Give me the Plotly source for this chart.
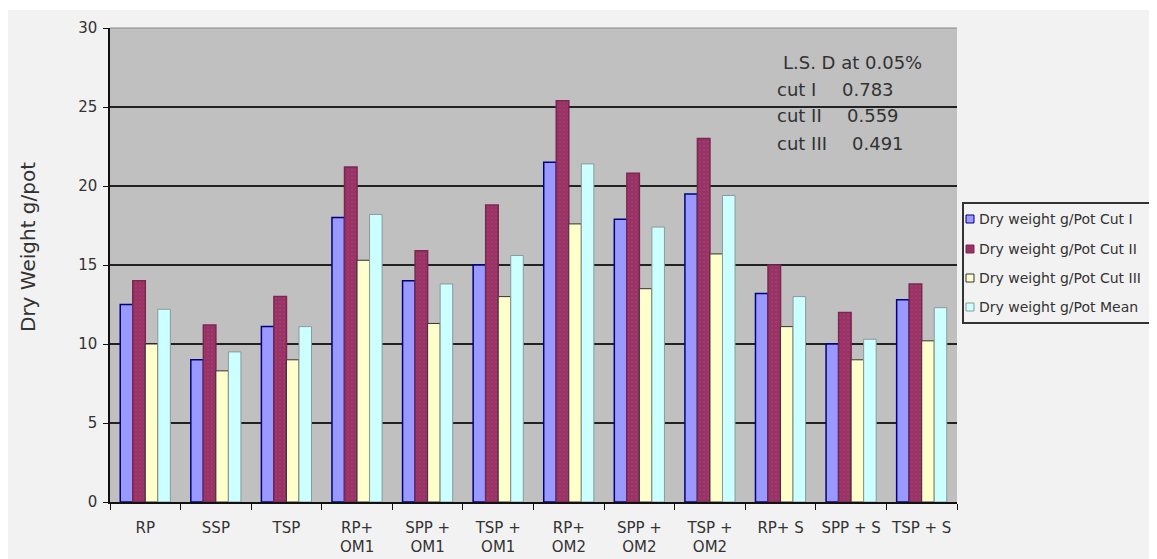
import plotly.graph_objects as go

categories = ["RP", "SSP", "TSP", "RP+<br>OM1", "SPP +<br>OM1", "TSP +<br>OM1",
              "RP+<br>OM2", "SPP +<br>OM2", "TSP +<br>OM2", "RP+ S", "SPP + S", "TSP + S"]
cut1 = [12.5, 9.0, 11.1, 18.0, 14.0, 15.0, 21.5, 17.9, 19.5, 13.2, 10.0, 12.8]
cut2 = [14.0, 11.2, 13.0, 21.2, 15.9, 18.8, 25.4, 20.8, 23.0, 15.0, 12.0, 13.8]
cut3 = [10.0, 8.3, 9.0, 15.3, 11.3, 13.0, 17.6, 13.5, 15.7, 11.1, 9.0, 10.2]
mean = [12.2, 9.5, 11.1, 18.2, 13.8, 15.6, 21.4, 17.4, 19.4, 13.0, 10.3, 12.3]
series_names = ["Dry weight g/Pot Cut I", "Dry weight g/Pot Cut II",
                "Dry weight g/Pot Cut III", "Dry weight g/Pot Mean"]
y_ticks = [0, 5, 10, 15, 20, 25, 30]
lsd_title = "L.S. D at 0.05%"
lsd_labels = ["cut I", "cut II", "cut III"]
lsd_values = ["0.783", "0.559", "0.491"]

OFF = 8  # default page body margin
W, H = 1157 - OFF, 559 - OFF
L, T = 110 - OFF, 28 - OFF
R = W - (957 - OFF)
B = H - (502 - OFF)
pw, ph = W - L - R, H - T - B

def px(x_ref):
    return (x_ref - OFF - L) / pw

def py(y_ref):
    return (H - B - (y_ref - OFF)) / ph

FONT = "DejaVu Sans, Arial, sans-serif"
TXT = "#333333"

fig = go.Figure()
styles = [
    dict(color="#9999ff", line=dict(color="#000080", width=1.5)),
    dict(color="#993366", line=dict(color="#7a2850", width=1.5),
         pattern=dict(shape=".", fgcolor="#b04a7a", size=4, solidity=0.2)),
    dict(color="#ffffcc", line=dict(color="#333333", width=1)),
    dict(color="#ccffff", line=dict(color="#8a9a9a", width=1)),
]
for name, vals, st in zip(series_names, [cut1, cut2, cut3, mean], styles):
    fig.add_trace(go.Bar(x=categories, y=vals, name=name, marker=st, showlegend=False))

shapes = [
    dict(type="rect", xref="paper", yref="paper", x0=px(0), x1=px(1200),
         y0=py(10), y1=py(0), fillcolor="white", line=dict(width=0), layer="below"),
    dict(type="line", xref="paper", yref="paper", x0=0, x1=1, y0=1, y1=1,
         line=dict(color="#888888", width=1)),
    # legend box
    dict(type="rect", xref="paper", yref="paper", x0=px(963), x1=px(1200),
         y0=py(323), y1=py(203), fillcolor="#f2f2f2",
         line=dict(color="#333333", width=2)),
]
ann = []
row_y = [219, 249, 278, 307]
for name, st, yy in zip(series_names, styles, row_y):
    shapes.append(dict(type="rect", xref="paper", yref="paper",
                       x0=px(966), x1=px(974), y0=py(yy + 4), y1=py(yy - 4),
                       fillcolor=st["color"], line=dict(color=st["line"]["color"], width=1)))
    ann.append(dict(text=name, x=px(977), y=py(yy), xref="paper", yref="paper",
                    showarrow=False, xanchor="left", yanchor="middle",
                    font=dict(size=14, color=TXT, family=FONT)))

fig.update_layout(
    width=W, height=H, autosize=False,
    margin=dict(l=L, r=R, t=T, b=B, autoexpand=False),
    paper_bgcolor="#f2f2f2", plot_bgcolor="#c0c0c0",
    barmode="group", bargap=0.29, bargroupgap=0.0,
    font=dict(family=FONT, color=TXT),
    showlegend=False,
    xaxis=dict(showgrid=False, showline=True, linecolor="#111111", linewidth=1.5,
               ticks="outside", ticklen=6, tickcolor="#111111", tickson="boundaries",
               ticklabelstandoff=11,
               tickfont=dict(size=15, color=TXT, family=FONT), mirror=False),
    yaxis=dict(range=[0, 30], tickvals=y_ticks, showgrid=True, gridcolor="#222222",
               gridwidth=1.5, showline=True, linecolor="#111111", linewidth=1.5,
               ticks="outside", ticklen=5, tickcolor="#111111", ticklabelstandoff=3,
               tickfont=dict(size=15, color=TXT, family=FONT), zeroline=False),
    shapes=shapes,
)

ann.append(dict(text="Dry Weight g/pot", x=px(28), y=py(247), xref="paper", yref="paper",
                textangle=-90, showarrow=False, font=dict(size=20, color=TXT, family=FONT),
                xanchor="center", yanchor="middle"))
ann.append(dict(text=lsd_title, x=px(781), y=py(62), xref="paper", yref="paper",
                showarrow=False, xanchor="left", yanchor="middle",
                font=dict(size=18, color=TXT, family=FONT)))
lab_y = [89, 116, 143]
val_x = [840, 845, 850]
for lab, val, yy, vx in zip(lsd_labels, lsd_values, lab_y, val_x):
    ann.append(dict(text=lab, x=px(775), y=py(yy), xref="paper", yref="paper",
                    showarrow=False, xanchor="left", yanchor="middle",
                    font=dict(size=18, color=TXT, family=FONT)))
    ann.append(dict(text=val, x=px(vx), y=py(yy), xref="paper", yref="paper",
                    showarrow=False, xanchor="left", yanchor="middle",
                    font=dict(size=18, color=TXT, family=FONT)))
fig.update_layout(annotations=ann)

fig.write_html("out.html")
